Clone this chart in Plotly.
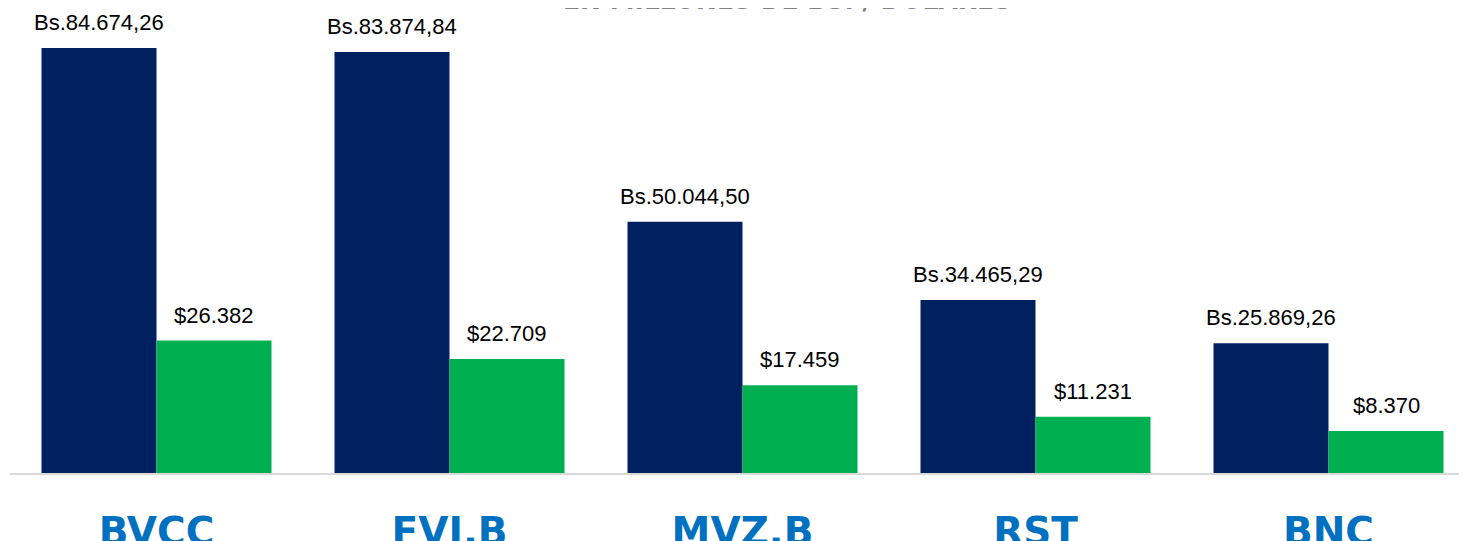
import plotly.graph_objects as go

categories = ["BVCC", "FVI.B", "MVZ.B", "RST", "BNC"]
bs_values = [84674.26, 83874.84, 50044.50, 34465.29, 25869.26]
usd_values = [26382, 22709, 17459, 11231, 8370]
title_text = "EN MILLONES DE BS. / DOLARES"

NAVY = "#002060"
GREEN = "#00B050"


def fmt_es(v, decimals):
    s = f"{v:,.{decimals}f}"
    return s.replace(",", "X").replace(".", ",").replace("X", ".")


bs_labels = ["Bs." + fmt_es(v, 2) for v in bs_values]
usd_labels = ["$" + fmt_es(v, 0) for v in usd_values]

W, H = 1467, 541
ML, MR, MT, MB = 2, 0, 0, 76
BARGAP = 0.215
plot_w = W - ML - MR
slot = plot_w / len(categories)
bar_w = slot * (1 - BARGAP) / 2

fig = go.Figure()
fig.add_trace(go.Bar(x=categories, y=bs_values, name="Bs", marker=dict(color=NAVY, line=dict(width=0))))
fig.add_trace(go.Bar(x=categories, y=usd_values, name="USD", marker=dict(color=GREEN, line=dict(width=0))))

annotations = []
lab_font = dict(family="Liberation Sans, Arial", size=22, color="#000000")
for c, v, t in zip(categories, bs_values, bs_labels):
    annotations.append(dict(x=c, y=v, text=t, xref="x", yref="y", showarrow=False,
                            xshift=-bar_w / 2, yanchor="bottom", yshift=11, font=lab_font))
for c, v, t in zip(categories, usd_values, usd_labels):
    annotations.append(dict(x=c, y=v, text=t, xref="x", yref="y", showarrow=False,
                            xshift=bar_w / 2, yanchor="bottom", yshift=11, font=lab_font))
annotations.append(dict(x=(779 - ML) / plot_w, y=1, xref="paper", yref="paper",
                        text="<b>" + title_text + "</b>",
                        showarrow=False, yanchor="bottom", yshift=-9,
                        font=dict(family="DejaVu Sans", size=25, color="#808080")))

fig.update_layout(
    width=W, height=H,
    margin=dict(l=ML, r=MR, t=MT, b=MB, pad=0, autoexpand=False),
    barmode="group", bargap=BARGAP, bargroupgap=0,
    plot_bgcolor="white", paper_bgcolor="white",
    showlegend=False,
    annotations=annotations,
    xaxis=dict(showgrid=False, showline=True, linecolor="#D9D9D9", linewidth=2,
               ticks="", ticklabelstandoff=23, automargin=False,
               tickfont=dict(family="DejaVu Sans", size=39, color="#0070C0", weight="bold")),
    yaxis=dict(visible=False, range=[0, 92643], showgrid=False, zeroline=False, automargin=False),
)
fig.write_html("out.html")
